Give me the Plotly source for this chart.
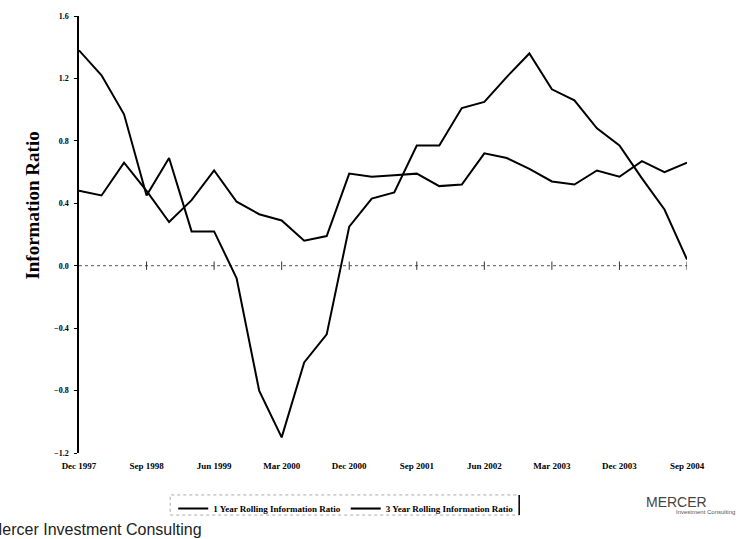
import plotly.graph_objects as go

# Quarter-end dates from Dec 1997 to Sep 2004
quarters = [
    "Dec 1997", "Mar 1998", "Jun 1998", "Sep 1998", "Dec 1998", "Mar 1999", "Jun 1999",
    "Sep 1999", "Dec 1999", "Mar 2000", "Jun 2000", "Sep 2000", "Dec 2000", "Mar 2001",
    "Jun 2001", "Sep 2001", "Dec 2001", "Mar 2002", "Jun 2002", "Sep 2002", "Dec 2002",
    "Mar 2003", "Jun 2003", "Sep 2003", "Dec 2003", "Mar 2004", "Jun 2004", "Sep 2004",
]

one_year_ir = [
    1.38, 1.22, 0.97, 0.45, 0.69, 0.22, 0.22, -0.08, -0.80, -1.10, -0.62, -0.44, 0.25, 0.43,
    0.47, 0.77, 0.77, 1.01, 1.05, 1.21, 1.36, 1.13, 1.06, 0.88, 0.77, 0.56, 0.36, 0.04,
]

three_year_ir = [
    0.48, 0.45, 0.66, 0.48, 0.28, 0.42, 0.61, 0.41, 0.33, 0.29, 0.16, 0.19, 0.59, 0.57,
    0.58, 0.59, 0.51, 0.52, 0.72, 0.69, 0.62, 0.54, 0.52, 0.61, 0.57, 0.67, 0.60, 0.66,
]

x_tick_labels = quarters[::3]
y_tick_values = [-1.2, -0.8, -0.4, 0.0, 0.4, 0.8, 1.2, 1.6]

serif = "Liberation Serif"
sans = "Liberation Sans"

fig = go.Figure()

fig.add_trace(go.Scatter(
    x=quarters, y=one_year_ir, mode="lines",
    name="1 Year Rolling Information Ratio",
    line=dict(color="black", width=2),
))
fig.add_trace(go.Scatter(
    x=quarters, y=three_year_ir, mode="lines",
    name="3 Year Rolling Information Ratio",
    line=dict(color="black", width=2),
))

# small tick marks along the zero line
fig.add_trace(go.Scatter(
    x=x_tick_labels[1:], y=[0.0] * len(x_tick_labels[1:]), mode="markers",
    marker=dict(symbol="line-ns", size=6, line=dict(color="#333333", width=1)),
    showlegend=False, hoverinfo="skip",
))

# dotted zero reference line
fig.add_shape(type="line", xref="paper", yref="y", x0=0, x1=1, y0=0, y1=0,
              line=dict(color="#555555", width=1, dash="dot"), layer="below")

# legend frame
fig.add_shape(type="rect", xref="paper", yref="paper",
              x0=0.150, x1=0.724, y0=-0.142, y1=-0.096,
              line=dict(color="#aaaaaa", width=1, dash="dot"))
fig.add_shape(type="line", xref="paper", yref="paper",
              x0=0.724, x1=0.724, y0=-0.142, y1=-0.096,
              line=dict(color="black", width=1.5))

fig.update_layout(
    width=740, height=539,
    margin=dict(l=79, r=53, t=16, b=86),
    paper_bgcolor="white", plot_bgcolor="white",
    showlegend=True,
    legend=dict(
        orientation="h", x=0.155, y=-0.094, xanchor="left", yanchor="top",
        font=dict(family=serif, size=9, color="black", weight="bold"),
        itemwidth=30, bgcolor="rgba(0,0,0,0)",
    ),
    xaxis=dict(
        type="category", range=[0, 27],
        tickvals=x_tick_labels, ticktext=x_tick_labels,
        showline=False, showgrid=False, zeroline=False, ticks="",
        tickfont=dict(family=serif, size=9, color="black", weight="bold"),
        ticklabelstandoff=6,
    ),
    yaxis=dict(
        range=[-1.2, 1.6], tickvals=y_tick_values, tickformat=".1f",
        showline=True, linecolor="black", linewidth=1.5,
        ticks="outside", ticklen=3, tickcolor="black",
        showgrid=False, zeroline=False,
        tickfont=dict(family=serif, size=8, color="black", weight="bold"),
        ticklabelstandoff=4,
    ),
    annotations=[
        dict(text="Information Ratio", xref="paper", yref="paper",
             x=-0.097, y=0.565, textangle=-90, showarrow=False,
             font=dict(family=serif, size=19, color="black", weight="bold")),
        dict(text="Mercer Investment Consulting", xref="paper", yref="paper",
             x=-0.152, y=-0.174, xanchor="left", yanchor="middle", showarrow=False,
             font=dict(family=sans, size=16, color="#222222")),
        dict(text="MERCER", xref="paper", yref="paper",
             x=0.929, y=-0.112, xanchor="left", yanchor="middle", showarrow=False,
             font=dict(family=sans, size=14, color="#444444")),
        dict(text="Investment Consulting", xref="paper", yref="paper",
             x=1.082, y=-0.134, xanchor="right", yanchor="middle", showarrow=False,
             font=dict(family=sans, size=6, color="#555555")),
    ],
)

fig.write_html("out.html")
